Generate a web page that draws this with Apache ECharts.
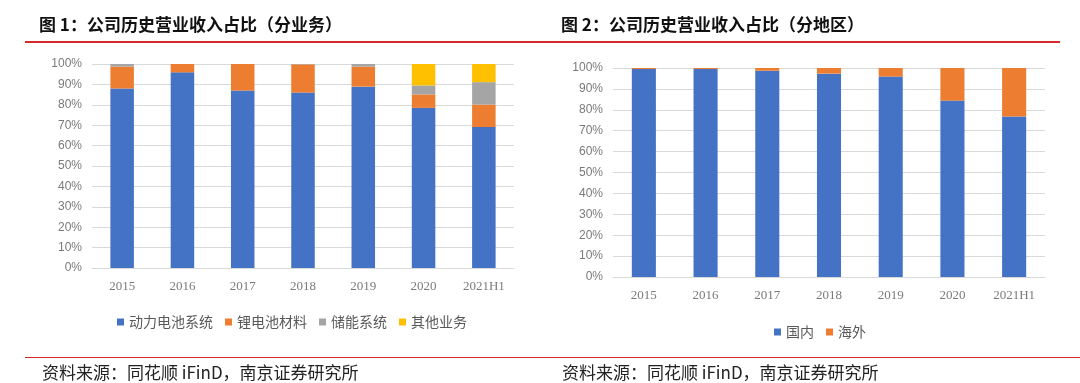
<!DOCTYPE html>
<html><head><meta charset="utf-8">
<script src="https://cdn.jsdelivr.net/npm/echarts@6/dist/echarts.min.js"></script>
<style>html,body{margin:0;padding:0;background:#fff}#c{width:1080px;height:383px}</style>
</head><body><div id="c"></div>
<script>
const categories = ['2015','2016','2017','2018','2019','2020','2021H1'];
// Figure 1: by business (share %)
const powerBattery = [88.0, 95.9, 87.0, 86.0, 88.9, 78.5, 69.1];
const liMaterial   = [10.7, 4.1, 13.0, 13.8, 9.8, 6.6, 11.0];
const storage      = [1.3, 0.0, 0.0, 0.2, 1.3, 4.4, 11.0];
const other        = [0.0, 0.0, 0.0, 0.0, 0.0, 10.5, 8.9];
// Figure 2: by region (share %)
const domestic = [99.5, 99.5, 98.7, 97.3, 95.9, 84.4, 76.8];
const overseas = [0.5, 0.5, 1.3, 2.7, 4.1, 15.6, 23.2];

const names1 = ['动力电池系统','锂电池材料','储能系统','其他业务'];
const names2 = ['国内','海外'];
const colors = {blue:'#4472C4', orange:'#ED7D31', gray:'#A5A5A5', yellow:'#FFC000'};

const chart = echarts.init(document.getElementById('c'), null, {renderer:'canvas'});
const labelColor = '#595959';
const axisColor = '#7a7a7a';
function xAxis(gi){return {type:'category', gridIndex:gi, data:categories,
  axisLine:{lineStyle:{color:'#d9d9d9'}}, axisTick:{show:false},
  axisLabel:{color:axisColor, fontFamily:'Liberation Serif', fontSize:13, margin:12}};}
function yAxis(gi){return {type:'value', gridIndex:gi, min:0, max:100, interval:10,
  axisLine:{show:false}, axisTick:{show:false},
  splitLine:{lineStyle:{color:'#d9d9d9'}},
  axisLabel:{color:axisColor, fontFamily:'Liberation Sans', fontSize:12, margin:10, formatter:v=>v+'%'}};}
function bar(name, data, color, gi){return {name, type:'bar', stack:'s'+gi, xAxisIndex:gi, yAxisIndex:gi,
  data, barWidth:'39%', itemStyle:{color}, emphasis:{disabled:true}};}

chart.setOption({
  animation:false,
  title:[
    {text:'图 1：公司历史营业收入占比（分业务）', left:34, top:11, textStyle:{fontFamily:'Noto Sans CJK SC', fontSize:17, fontWeight:'bold', color:'#111'}},
    {text:'图 2：公司历史营业收入占比（分地区）', left:556, top:11, textStyle:{fontFamily:'Noto Sans CJK SC', fontSize:17, fontWeight:'bold', color:'#111'}},
    {text:'资料来源：同花顺 iFinD，南京证券研究所', left:37, top:359, textStyle:{fontFamily:'Noto Sans CJK SC', fontSize:17, fontWeight:'normal', color:'#222'}},
    {text:'资料来源：同花顺 iFinD，南京证券研究所', left:557, top:359, textStyle:{fontFamily:'Noto Sans CJK SC', fontSize:17, fontWeight:'normal', color:'#222'}}
  ],
  graphic:[
    {type:'rect', shape:{x:25, y:41, width:1035, height:2}, style:{fill:'#d42a2a'}},
    {type:'rect', shape:{x:25, y:357, width:1055, height:1}, style:{fill:'#d42a2a'}}
  ],
  legend:[
    {data:names1, top:310, left:112, itemWidth:7, itemHeight:7, icon:'rect', itemGap:12,
     textStyle:{color:labelColor, fontSize:14, fontFamily:'Noto Sans CJK SC'}, selectedMode:false},
    {data:names2, top:320, left:769, itemWidth:7, itemHeight:7, icon:'rect', itemGap:12,
     textStyle:{color:labelColor, fontSize:14, fontFamily:'Noto Sans CJK SC'}, selectedMode:false}
  ],
  grid:[
    {left:92, right:566, top:64, bottom:115},
    {left:613, right:35, top:68, bottom:106}
  ],
  xAxis:[xAxis(0), xAxis(1)],
  yAxis:[yAxis(0), yAxis(1)],
  series:[
    bar(names1[0], powerBattery, colors.blue, 0),
    bar(names1[1], liMaterial, colors.orange, 0),
    bar(names1[2], storage, colors.gray, 0),
    bar(names1[3], other, colors.yellow, 0),
    bar(names2[0], domestic, colors.blue, 1),
    bar(names2[1], overseas, colors.orange, 1)
  ]
});
</script></body></html>
